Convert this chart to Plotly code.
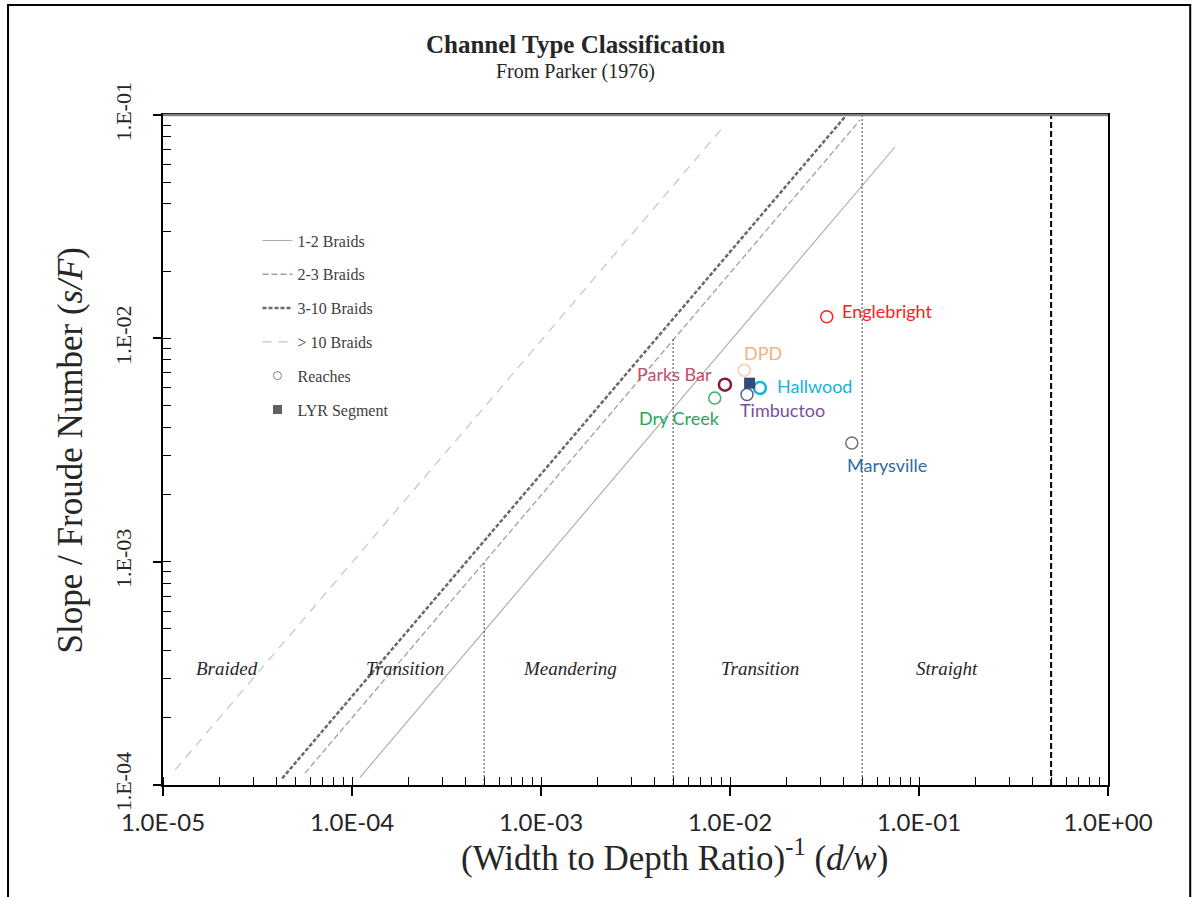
import numpy as np
import plotly.graph_objects as go

# ---------------- data ----------------
# Parker (1976) braid criteria lines (endpoints, d/w vs s/F)
b12_x = [1.10e-4, 7.46e-2]
b12_y = [1.08e-4, 7.19e-2]
b23_x = [5.64e-5, 4.88e-2]
b23_y = [1.13e-4, 9.50e-2]
b310_x = [4.27e-5, 4.05e-2]
b310_y = [1.07e-4, 9.80e-2]
b10_x = [1.16e-5, 9.40e-3]
b10_y = [1.17e-4, 9.02e-2]

# vertical regime boundaries
v_x = [5e-4, 5e-3, 5e-2]
v_top = [1e-3, 1e-2, 1e-1]
v_bottom = 1e-4
straight_x = 5e-1

# reaches
reach_names = ["Englebright", "DPD", "Parks Bar", "Hallwood", "Timbuctoo", "Dry Creek", "Marysville"]
reach_dw = [0.0325, 0.0119, 0.0094, 0.0144, 0.0123, 0.0083, 0.0441]
reach_sf = [0.0125, 0.0072, 0.0062, 0.0060, 0.0056, 0.0054, 0.0034]
reach_marker_colors = ["#FF2020", "#F8CBAD", "#8B1A3A", "#17B3D8", "#5A5A8A", "#3CB371", "#707070"]
reach_label_colors = ["#FF1A1A", "#F4B183", "#C0506A", "#17B0E0", "#7A4FA0", "#26A65B", "#2E6DA4"]
reach_marker_width = [1.5, 1.5, 2.5, 2.5, 1.5, 1.5, 1.5]
# label placement (anchor, xshift, yshift) in px
reach_label_pos = [("left", 13, 6), ("center", 19, 17), ("right", -11, 11), ("left", 15, 2),
                   ("center", 36, -15), ("center", -35, -20), ("center", 35, -22)]

lyr_dw = [0.0127]
lyr_sf = [0.0063]

# regime labels
region_names = ["Braided", "Transition", "Meandering", "Transition", "Straight"]
region_x = [2.18e-5, 1.9e-4, 1.42e-3, 1.44e-2, 1.406e-1]
region_y = 3.34e-4

x_tickvals = [1e-5, 1e-4, 1e-3, 1e-2, 1e-1, 1e0]
x_ticktext = ["1.0E-05", "1.0E-04", "1.0E-03", "1.0E-02", "1.0E-01", "1.0E+00"]
y_tickvals = [1e-4, 1e-3, 1e-2, 1e-1]
y_ticktext = ["1.E-04", "1.E-03", "1.E-02", "1.E-01"]

SERIF = "Liberation Serif"
SANS = "Lato"

fig = go.Figure()

# braid lines
fig.add_trace(go.Scatter(x=b12_x, y=b12_y, mode="lines", name="1-2 Braids",
                         line=dict(color="#ABABAB", width=1.1), legendgroup="a"))
fig.add_trace(go.Scatter(x=b23_x, y=b23_y, mode="lines", name="2-3 Braids",
                         line=dict(color="#A0A0A0", width=1.3, dash="6px,3px"), legendgroup="b"))
fig.add_trace(go.Scatter(x=b310_x, y=b310_y, mode="lines", name="3-10 Braids",
                         line=dict(color="#6A6A6A", width=2.5, dash="4px,2px"), legendgroup="c"))
fig.add_trace(go.Scatter(x=b10_x, y=b10_y, mode="lines", name="> 10 Braids",
                         line=dict(color="#C4C4C4", width=1.2, dash="9px,7px"), legendgroup="d"))

# vertical boundaries
for vx, vt in zip(v_x, v_top):
    fig.add_trace(go.Scatter(x=[vx, vx], y=[v_bottom, vt], mode="lines", showlegend=False,
                             line=dict(color="#404040", width=1, dash="2px,2px"), hoverinfo="skip"))
fig.add_trace(go.Scatter(x=[straight_x, straight_x], y=[1e-4, 1e-1], mode="lines", showlegend=False,
                         line=dict(color="#000000", width=2, dash="6px,3px"), hoverinfo="skip"))

# legend-only entries
fig.add_trace(go.Scatter(x=[None], y=[None], mode="markers", name="Reaches", legendgroup="e",
                         marker=dict(symbol="circle-open", color="#808080", size=8, line=dict(width=1))))
fig.add_trace(go.Scatter(x=[None], y=[None], mode="markers", name="LYR Segment", legendgroup="f",
                         marker=dict(symbol="square", color="#606060", size=9)))

# reaches
for i, n in enumerate(reach_names):
    fig.add_trace(go.Scatter(x=[reach_dw[i]], y=[reach_sf[i]], mode="markers", showlegend=False, name=n,
                             marker=dict(symbol="circle-open", size=12, color=reach_marker_colors[i],
                                         line=dict(width=reach_marker_width[i], color=reach_marker_colors[i]))))
    anc, xs, ys = reach_label_pos[i]
    fig.add_annotation(x=np.log10(reach_dw[i]), y=np.log10(reach_sf[i]), text=n, showarrow=False,
                       xanchor=anc, yanchor="middle", xshift=xs, yshift=ys,
                       font=dict(family=SANS, size=18, color=reach_label_colors[i]))

fig.add_trace(go.Scatter(x=lyr_dw, y=lyr_sf, mode="markers", showlegend=False, name="LYR Segment",
                         marker=dict(symbol="square", size=11, color="#2B4E72")))

# region labels
for rn, rx in zip(region_names, region_x):
    fig.add_annotation(x=np.log10(rx), y=np.log10(region_y), text="<i>" + rn + "</i>", showarrow=False,
                       font=dict(family=SERIF, size=19, color="#262626"))

# titles
fig.add_annotation(xref="paper", yref="paper", x=0.436, y=1.1045, xanchor="center", yanchor="middle",
                   text="<b>Channel Type Classification</b>",
                   showarrow=False, font=dict(family=SERIF, size=25, color="#262626"))
fig.add_annotation(xref="paper", yref="paper", x=0.436, y=1.0642, xanchor="center", yanchor="middle",
                   text="From Parker (1976)",
                   showarrow=False, font=dict(family=SERIF, size=20, color="#262626"))
fig.add_annotation(xref="paper", yref="paper", x=0.541, y=-0.1045, xanchor="center", yanchor="middle",
                   text="(Width to Depth Ratio)<sup>-1</sup> (<i>d/w</i>)",
                   showarrow=False, font=dict(family=SERIF, size=35, color="#262626"))
fig.add_annotation(xref="paper", yref="paper", x=-0.098, y=0.5, xanchor="center", yanchor="middle",
                   textangle=-90,
                   text="Slope / Froude Number (<i>s/F</i>)",
                   showarrow=False, font=dict(family=SERIF, size=35, color="#262626"))

# outer frame
fig.add_shape(type="rect", xref="paper", yref="paper", x0=-0.164, x1=1.087, y0=-0.2, y1=1.164,
              line=dict(color="#000000", width=2), fillcolor="rgba(0,0,0,0)", layer="below")
# grey top border of plot area
fig.add_shape(type="line", xref="paper", yref="paper", x0=0, x1=1, y0=1, y1=1,
              line=dict(color="#7F7F7F", width=2.5))

fig.update_xaxes(type="log", range=[-5, 0], tickvals=x_tickvals, ticktext=x_ticktext,
                 ticks="outside", ticklen=9, tickwidth=1.5, tickcolor="#000000",
                 minor=dict(ticks="inside", ticklen=8, tickwidth=1, tickcolor="#000000", dtick="D1", showgrid=False),
                 showline=True, linecolor="#000000", linewidth=2, mirror=True,
                 showgrid=False, zeroline=False, ticklabelstandoff=6,
                 tickfont=dict(family=SANS, size=24, color="#262626"))
fig.update_yaxes(type="log", range=[-4, -1], tickvals=y_tickvals, ticktext=y_ticktext,
                 ticks="outside", ticklen=8, tickwidth=1.5, tickcolor="#000000", tickangle=-90,
                 minor=dict(ticks="inside", ticklen=8, tickwidth=1, tickcolor="#000000", dtick="D1", showgrid=False),
                 showline=True, linecolor="#000000", linewidth=2, mirror=True,
                 showgrid=False, zeroline=False, ticklabelstandoff=13,
                 tickfont=dict(family=SERIF, size=22, color="#262626"))

fig.update_layout(
    width=1196, height=897,
    margin=dict(l=163, r=88, t=115, b=112),
    paper_bgcolor="white", plot_bgcolor="white",
    showlegend=True,
    legend=dict(x=0.1, y=0.838, xanchor="left", yanchor="top", bgcolor="rgba(0,0,0,0)",
                traceorder="grouped", tracegroupgap=10,
                font=dict(family=SERIF, size=16, color="#404040")),
)

fig.write_html("out.html")
